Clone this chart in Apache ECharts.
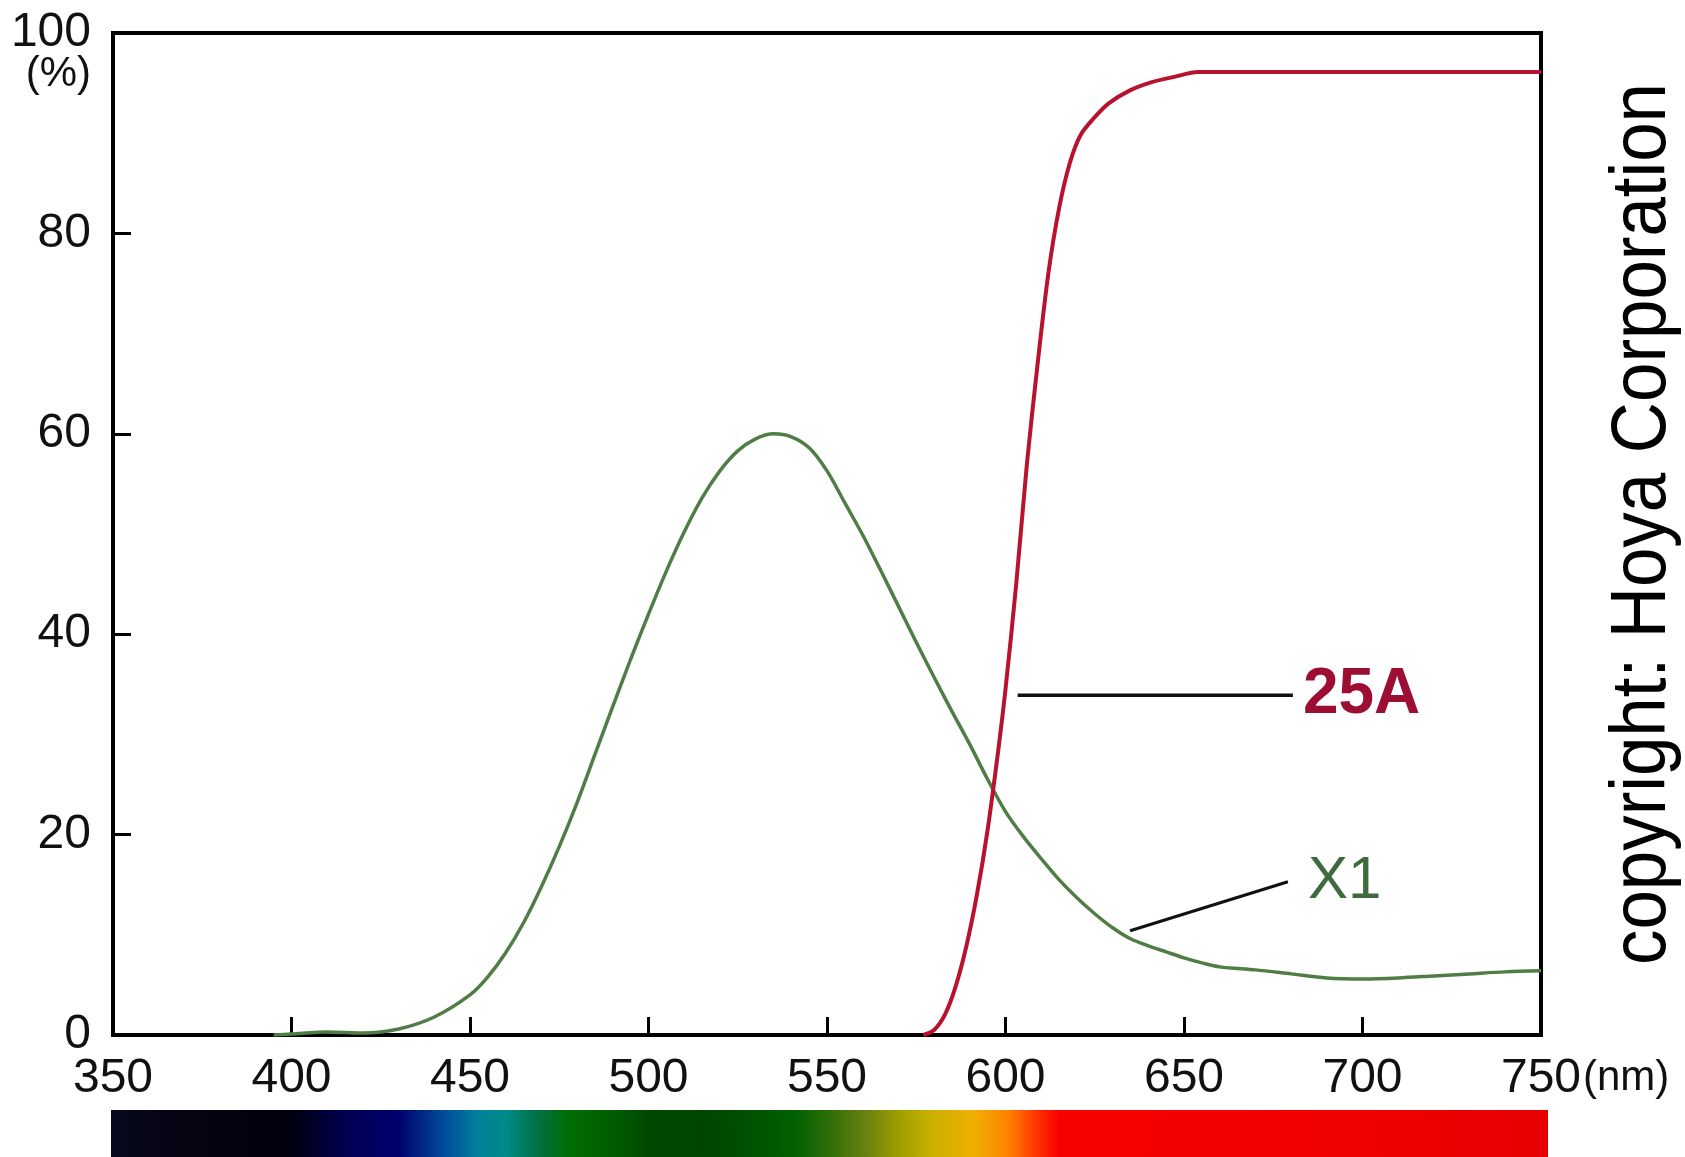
<!DOCTYPE html>
<html>
<head>
<meta charset="utf-8">
<script src="https://cdn.jsdelivr.net/npm/echarts@6/dist/echarts.min.js"></script>
<style>
html,body{margin:0;padding:0;background:#fff;}
#chart{width:1685px;height:1157px;}
</style>
</head>
<body>
<div id="chart"></div>
<script>
// ---- data ----
const xTicks = [350, 400, 450, 500, 550, 600, 650, 700, 750];
const yTicks = [0, 20, 40, 60, 80, 100];

// X1 (green) transmittance curve
const x1Wl  = [395, 400, 410, 420, 430, 440, 450, 455, 460, 465, 470, 475, 480, 485, 490, 495, 500, 505, 510, 515, 520, 525, 530, 535, 540, 545, 550, 555, 560, 565, 570, 575, 580, 585, 590, 595, 600, 605, 610, 615, 620, 625, 630, 635, 640, 645, 650, 655, 660, 670, 680, 690, 700, 710, 720, 730, 740, 750];
const x1Val = [0, 0.1, 0.3, 0.2, 0.6, 1.8, 4.0, 5.8, 8.2, 11.2, 14.8, 18.8, 23.2, 28, 32.8, 37.5, 42, 46.3, 50.2, 53.6, 56.3, 58.3, 59.5, 60, 59.7, 58.6, 56.3, 53.1, 49.9, 46.4, 42.8, 39.2, 35.7, 32.3, 29.0, 25.5, 22.3, 19.8, 17.6, 15.5, 13.7, 12.1, 10.7, 9.6, 8.9, 8.3, 7.7, 7.2, 6.8, 6.5, 6.1, 5.7, 5.6, 5.7, 5.9, 6.1, 6.3, 6.4];

// 25A (red) transmittance curve
const r25Wl  = [577, 580, 583, 586, 589, 592, 595, 598, 600, 603, 606, 609, 612, 615, 618, 621, 625, 629, 635, 641, 647, 654, 700, 750];
const r25Val = [0, 0.5, 2, 4.8, 8.8, 14, 20.5, 28.5, 34.5, 45, 57, 67, 76, 82.5, 87, 89.8, 91.6, 93, 94.3, 95.1, 95.6, 96.1, 96.1, 96.1];

// leader lines for the curve labels
const lead25AWl  = [603.4, 680.5];
const lead25AVal = [33.9, 33.9];
const leadX1Wl   = [634.9, 679.1];
const leadX1Val  = [10.4, 15.3];

// spectrum colour bar under the axis
const specWl    = [350, 380, 400, 415, 430, 442, 452, 460, 468, 478, 490, 500, 515, 525, 540, 550, 560, 570, 578, 590, 600, 608, 614, 700, 750];
const specColor = ['#08081c', '#030310', '#00000e', '#000050', '#00006e', '#00489a', '#00809a', '#008a88', '#007248', '#006c00', '#005c00', '#004800', '#004600', '#004e00', '#006000', '#2e6e08', '#6a8010', '#a0a000', '#c8b000', '#f0b000', '#ff8000', '#ff3000', '#f80000', '#f00000', '#e60000'];

function zip(a, b) { return a.map((v, i) => [v, b[i]]); }

const chart = echarts.init(document.getElementById('chart'));
const FONT = '"Liberation Sans", Arial, sans-serif';

const stops = specWl.map((w, i) => ({ offset: (w - 350) / 400, color: specColor[i] }));

chart.setOption({
  animation: false,
  backgroundColor: '#fff',
  grid: [
    { left: 113, top: 33, width: 1428, height: 1002, show: true, borderColor: '#000', borderWidth: 4, backgroundColor: 'transparent', containLabel: false, outerBoundsMode: 'none' },
    { left: 111, top: 1110, width: 1437, height: 47, containLabel: false, outerBoundsMode: 'none' }
  ],
  xAxis: [
    {
      type: 'value', gridIndex: 0, min: 350, max: 750, interval: 50,
      axisLine: { show: true, onZero: false, lineStyle: { color: '#000', width: 4 } },
      axisTick: { show: true, inside: true, length: 18, lineStyle: { color: '#000', width: 3 } },
      splitLine: { show: false },
      axisLabel: { show: true, margin: 20, color: '#111', fontSize: 48, fontFamily: FONT },
      name: '(nm)', nameLocation: 'end', nameGap: 42, nameMoveOverlap: false,
      nameTextStyle: { color: '#111', fontSize: 42, fontFamily: FONT, verticalAlign: 'top', align: 'left', padding: [22, 0, 0, 0] }
    },
    { type: 'value', gridIndex: 1, min: 350, max: 750, show: false }
  ],
  yAxis: [
    {
      type: 'value', gridIndex: 0, min: 0, max: 100, interval: 20,
      axisLine: { show: true, lineStyle: { color: '#000', width: 4 } },
      axisTick: { show: true, inside: true, length: 18, lineStyle: { color: '#000', width: 3 } },
      splitLine: { show: false },
      axisLabel: { show: true, margin: 22, color: '#111', fontSize: 48, fontFamily: FONT, padding: [0, 0, 12, 0] },
      name: '(%)', nameLocation: 'end', nameGap: -20, nameMoveOverlap: false,
      nameTextStyle: { color: '#111', fontSize: 42, fontFamily: FONT, verticalAlign: 'top', align: 'right', padding: [0, 22, 0, 0] }
    },
    { type: 'value', gridIndex: 1, min: 0, max: 1, show: false }
  ],
  series: [
    {
      name: 'X1', type: 'line', xAxisIndex: 0, yAxisIndex: 0,
      data: zip(x1Wl, x1Val), smooth: 0.3, symbol: 'none', z: 3,
      lineStyle: { color: '#4f7d45', width: 3.5 }
    },
    {
      name: '25A', type: 'line', xAxisIndex: 0, yAxisIndex: 0,
      data: zip(r25Wl, r25Val), smooth: 0.3, symbol: 'none', z: 4,
      lineStyle: { color: '#b8122f', width: 4 }
    },
    {
      name: 'lead25A', type: 'line', xAxisIndex: 0, yAxisIndex: 0,
      data: zip(lead25AWl, lead25AVal), symbol: 'none', z: 5,
      lineStyle: { color: '#111', width: 3.5 },
      endLabel: { show: true, formatter: '25A', distance: 10, color: '#9c0f32', fontSize: 64, fontWeight: 'bold', fontFamily: FONT }
    },
    {
      name: 'leadX1', type: 'line', xAxisIndex: 0, yAxisIndex: 0,
      data: zip(leadX1Wl, leadX1Val), symbol: 'none', z: 5,
      lineStyle: { color: '#111', width: 3 },
      endLabel: { show: true, formatter: 'X1', distance: 20, color: '#3e6b3e', fontSize: 60, fontFamily: FONT }
    },
    {
      name: 'spectrum', type: 'custom', xAxisIndex: 1, yAxisIndex: 1,
      data: [[350, 750]],
      renderItem: function (params, api) {
        const p0 = api.coord([api.value(0), 0]);
        const p1 = api.coord([api.value(1), 1]);
        return {
          type: 'rect',
          shape: { x: p0[0], y: p1[1], width: p1[0] - p0[0], height: p0[1] - p1[1] },
          style: { fill: new echarts.graphic.LinearGradient(0, 0, 1, 0, stops) }
        };
      }
    }
  ],
  graphic: [
    {
      type: 'text', x: 1644, y: 524, rotation: Math.PI / 2, scaleX: 0.92, scaleY: 1,
      style: { text: 'copyright: Hoya Corporation', font: '77px ' + FONT, fill: '#000', align: 'center', verticalAlign: 'middle' }
    }
  ]
});
</script>
</body>
</html>
